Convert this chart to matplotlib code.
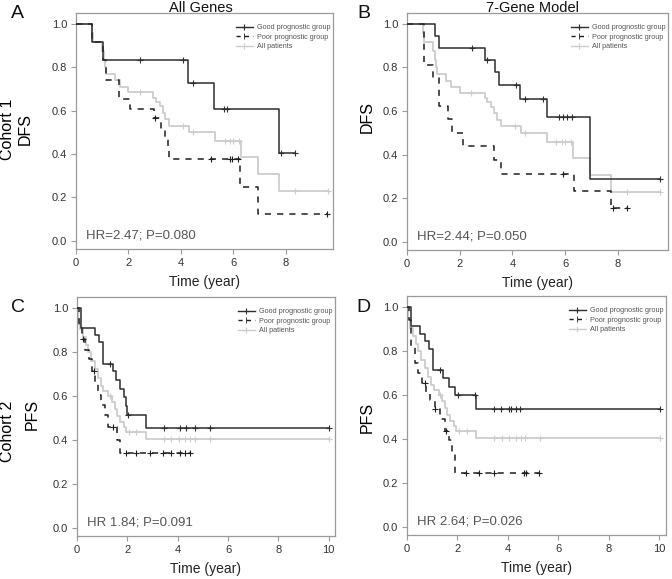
import numpy as np
import matplotlib
matplotlib.use("Agg")
import matplotlib.pyplot as plt
from matplotlib.lines import Line2D

plt.rcParams['font.family'] = ['Liberation Sans', 'DejaVu Sans']

# ---------------- data ----------------
# Cohort 1 - All genes (panel A)
a_good_t = [0, 0.61, 1.03, 4.28, 5.27, 7.75]
a_good_s = [1.0, 0.917, 0.833, 0.729, 0.607, 0.405]
a_good_c = [2.44, 4.09, 4.47, 5.64, 5.74, 7.80, 8.34]

a_poor_t = [0, 0.60, 1.03, 1.13, 1.64, 2.06, 2.98, 3.26, 3.39, 3.50, 3.56, 6.27, 6.95]
a_poor_s = [1.0, 0.917, 0.833, 0.742, 0.655, 0.607, 0.567, 0.52, 0.47, 0.425, 0.375, 0.25, 0.125]
a_poor_c = [3.02, 5.15, 5.88, 5.95, 6.17, 9.59]

c1_all_t = [0, 0.60, 0.65, 1.00, 1.05, 1.10, 1.15, 1.49, 1.68, 2.00, 2.95, 3.05, 3.20,
            3.30, 3.40, 3.55, 4.32, 5.30, 6.31, 6.95, 7.75]
c1_all_s = [1.0, 0.958, 0.917, 0.875, 0.833, 0.80, 0.77, 0.74, 0.71, 0.685, 0.66, 0.64,
            0.62, 0.59, 0.56, 0.53, 0.50, 0.46, 0.385, 0.307, 0.23]
c1_all_c = [2.44, 4.09, 4.47, 5.67, 5.87, 6.00, 6.22, 8.34, 9.61]

# Cohort 1 - 7-gene model (panel B)
b_good_t = [0, 1.06, 1.23, 2.97, 3.35, 3.50, 4.30, 5.30, 6.96]
b_good_s = [1.0, 0.944, 0.889, 0.833, 0.778, 0.72, 0.655, 0.573, 0.287]
b_good_c = [2.47, 3.05, 4.14, 4.48, 5.15, 5.77, 5.90, 6.05, 6.25, 9.61]

b_poor_t = [0, 0.66, 0.97, 1.20, 1.57, 1.71, 2.11, 3.29, 3.57, 6.32, 7.75]
b_poor_s = [1.0, 0.8125, 0.75, 0.625, 0.5625, 0.5, 0.4375, 0.375, 0.3125, 0.234, 0.156]
b_poor_c = [5.91, 7.80, 8.35]

# Cohort 2 - All genes (panel C)
c_good_t = [0, 0.17, 0.70, 0.88, 1.04, 1.45, 1.55, 1.70, 1.85, 1.93, 1.98, 2.75]
c_good_s = [1.0, 0.908, 0.875, 0.843, 0.747, 0.712, 0.672, 0.632, 0.594, 0.555, 0.515, 0.455]
c_good_c = [1.30, 2.04, 3.45, 4.08, 4.32, 4.68, 5.27, 10.02]

c_poor_t = [0, 0.08, 0.21, 0.31, 0.46, 0.60, 0.72, 0.85, 0.97, 1.10, 1.23, 1.58, 1.70]
c_poor_s = [1.0, 0.92, 0.86, 0.81, 0.767, 0.714, 0.655, 0.605, 0.56, 0.515, 0.46, 0.40, 0.339]
c_poor_c = [0.24, 0.68, 1.45, 1.96, 2.36, 2.89, 3.42, 3.75, 4.08, 4.30, 4.48]

c2_all_t = [0, 0.05, 0.10, 0.25, 0.35, 0.45, 0.55, 0.70, 0.85, 0.95, 1.05, 1.25, 1.40,
            1.50, 1.60, 1.70, 1.85, 1.95, 2.73]
c2_all_s = [1.0, 0.95, 0.905, 0.87, 0.83, 0.80, 0.76, 0.72, 0.68, 0.645, 0.62, 0.60, 0.57,
            0.54, 0.51, 0.48, 0.46, 0.435, 0.405]
c2_all_c = [1.30, 2.05, 2.36, 3.45, 3.75, 4.05, 4.30, 4.50, 4.68, 5.27, 10.02]

# Cohort 2 - 7-gene model (panel D)
d_good_t = [0, 0.15, 0.50, 0.70, 0.88, 1.04, 1.43, 1.68, 1.90, 2.75]
d_good_s = [1.0, 0.912, 0.878, 0.845, 0.81, 0.711, 0.676, 0.637, 0.598, 0.537]
d_good_c = [1.32, 2.04, 2.69, 3.46, 3.73, 4.06, 4.12, 4.32, 4.48, 10.02]

d_poor_t = [0, 0.08, 0.17, 0.30, 0.45, 0.60, 0.75, 0.90, 1.10, 1.30, 1.50, 1.65, 1.80, 1.90]
d_poor_s = [1.0, 0.94, 0.82, 0.745, 0.70, 0.655, 0.614, 0.576, 0.537, 0.49, 0.437, 0.395, 0.336, 0.245]
d_poor_c = [0.70, 1.10, 1.55, 2.35, 2.85, 3.45, 4.62, 4.72, 5.24]

panel_letters = ['A', 'B', 'C', 'D']
col_titles = ['All Genes', '7-Gene Model']
hr_texts = ['HR=2.47; P=0.080', 'HR=2.44; P=0.050', 'HR 1.84; P=0.091', 'HR 2.64; P=0.026']
legend_labels = ['Good prognostic group', 'Poor prognostic group', 'All patients']
ytick_vals = [0.0, 0.2, 0.4, 0.6, 0.8, 1.0]
xticks_c1 = [0, 2, 4, 6, 8]
xticks_c2 = [0, 2, 4, 6, 8, 10]

# ---------------- styling ----------------
W, H = 672, 579
DARK = '#2e2e2e'
POOR = '#1e1e1e'
LIGHT = '#cdcdcd'
SPINE = '#9a9a9a'
TXT = '#333333'

fig = plt.figure(figsize=(W / 100, H / 100), dpi=100)


def px_axes(l, t, r, b):
    return fig.add_axes([l / W, 1 - b / H, (r - l) / W, (b - t) / H])


def km(ax, t, s, cens, color, ls, lw, z):
    t = list(t)
    s = list(s)
    tend = max(max(cens), t[-1])
    tt = t + [tend]
    ss = s + [s[-1]]
    ax.step(tt, ss, where='post', color=color, ls=ls, lw=lw, zorder=z)
    idx = np.searchsorted(np.array(t), np.array(cens), side='right') - 1
    cy = np.array(s)[idx]
    ax.plot(cens, cy, ls='none', marker='+', ms=5, mew=0.8, color=color, zorder=z)


panels = [
    dict(box=(76, 13, 333, 249), xlim=(0, 9.8), xt=xticks_c1,
         curves=[(c1_all_t, c1_all_s, c1_all_c), (a_poor_t, a_poor_s, a_poor_c),
                 (a_good_t, a_good_s, a_good_c)]),
    dict(box=(407, 13, 668, 250), xlim=(0, 9.9), xt=xticks_c1,
         curves=[(c1_all_t, c1_all_s, c1_all_c), (b_poor_t, b_poor_s, b_poor_c),
                 (b_good_t, b_good_s, b_good_c)]),
    dict(box=(77, 297, 335, 536), xlim=(0, 10.25), xt=xticks_c2,
         curves=[(c2_all_t, c2_all_s, c2_all_c), (c_poor_t, c_poor_s, c_poor_c),
                 (c_good_t, c_good_s, c_good_c)]),
    dict(box=(407, 296, 666, 535), xlim=(0, 10.26), xt=xticks_c2,
         curves=[(c2_all_t, c2_all_s, c2_all_c), (d_poor_t, d_poor_s, d_poor_c),
                 (d_good_t, d_good_s, d_good_c)]),
]

styles = [(LIGHT, '-', 1.3, 2), (POOR, (0, (4, 4)), 1.1, 3), (DARK, '-', 1.1, 4)]

for i, p in enumerate(panels):
    ax = px_axes(*p['box'])
    for (t, s, c), (col, ls, lw, z) in zip(p['curves'], styles):
        km(ax, t, s, c, col, ls, lw, z)
    ax.set_xlim(*p['xlim'])
    ax.set_ylim(-0.038, 1.05)
    ax.set_xticks(p['xt'])
    ax.set_yticks(ytick_vals)
    ax.set_yticklabels([f'{v:.1f}' for v in ytick_vals])
    for sp in ax.spines.values():
        sp.set_color(SPINE)
        sp.set_linewidth(0.9)
    ax.tick_params(direction='out', length=3.5, width=0.8, color=SPINE,
                   labelcolor=TXT, labelsize=8, pad=3)
    ax.tick_params(axis='x', pad=3)
    ax.set_xlabel('Time (year)', fontsize=10, color='#222222', labelpad=5)
    ax.text(0.04, 0.03, hr_texts[i], transform=ax.transAxes, fontsize=9.5,
            color='#555555', ha='left', va='bottom')
    handles = [
        Line2D([], [], color=DARK, lw=1.0, marker='+', ms=5, mew=0.8),
        Line2D([], [], color=POOR, lw=1.0, ls=(0, (3, 3)), marker='|', ms=5, mew=0.6),
        Line2D([], [], color=LIGHT, lw=1.0, marker='+', ms=5, mew=0.8),
    ]
    leg = ax.legend(handles, legend_labels, loc='upper right', bbox_to_anchor=(1.0, 0.965),
                    frameon=False, fontsize=5.2, handlelength=2.4, handletextpad=0.5,
                    labelspacing=0.35, borderpad=0.2, borderaxespad=0.2)
    for txt in leg.get_texts():
        txt.set_color('#555555')

# titles, letters, row labels
fig.text(201 / W, 1 - 8 / H, col_titles[0], fontsize=10.5, ha='center', va='center', color='#111111')
fig.text(532 / W, 1 - 8 / H, col_titles[1], fontsize=10.5, ha='center', va='center', color='#111111')
for (x, y), L in zip([(17.5, 14), (363.5, 13), (17.5, 307), (363.5, 307)], panel_letters):
    fig.text(x / W, 1 - y / H, L, fontsize=14, ha='center', va='center', color='#111111')

fig.text(8 / W, 1 - 129 / H, 'Cohort 1', rotation=90, fontsize=11.5, ha='center', va='center')
fig.text(25 / W, 1 - 129 / H, 'DFS', rotation=90, fontsize=11.5, ha='center', va='center')
fig.text(367 / W, 1 - 117 / H, 'DFS', rotation=90, fontsize=11.5, ha='center', va='center')
fig.text(8 / W, 1 - 431 / H, 'Cohort 2', rotation=90, fontsize=11.5, ha='center', va='center')
fig.text(32 / W, 1 - 414 / H, 'PFS', rotation=90, fontsize=11.5, ha='center', va='center')
fig.text(367 / W, 1 - 417 / H, 'PFS', rotation=90, fontsize=11.5, ha='center', va='center')

fig.savefig('out.png', dpi=100)
